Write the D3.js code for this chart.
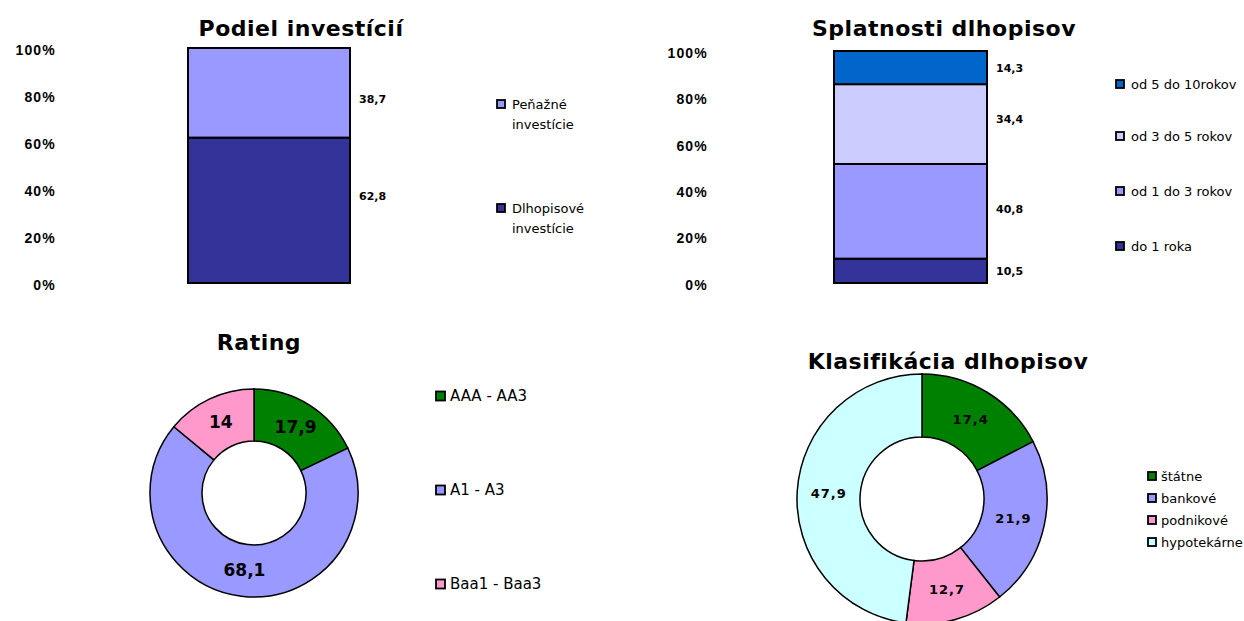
<!DOCTYPE html>
<html>
<head>
<meta charset="utf-8">
<script src="https://cdn.jsdelivr.net/npm/d3@7"></script>
<style>
  body { margin: 0; background: #fff; }
  svg { font-family: "DejaVu Sans", Verdana, sans-serif; }
  .title { font-weight: bold; font-size: 22px; letter-spacing: 0.5px; }
  .ytick text { font-weight: bold; font-size: 14px; letter-spacing: 1.2px; }
</style>
</head>
<body>
<svg id="chart" width="1244" height="621"></svg>
<script>
// Podiel investícií
var invNames = ["Dlhopisové investície", "Peňažné investície"];
var invValues = [62.8, 38.7];
var invColors = ["#333399", "#9999FF"];

// Splatnosti dlhopisov
var matNames = ["do 1 roka", "od 1 do 3 rokov", "od 3 do 5 rokov", "od 5 do 10rokov"];
var matValues = [10.5, 40.8, 34.4, 14.3];
var matColors = ["#333399", "#9999FF", "#CCCCFF", "#0066CC"];

// Rating
var ratNames = ["AAA - AA3", "A1 - A3", "Baa1 - Baa3"];
var ratValues = [17.9, 68.1, 14];
var ratColors = ["#008000", "#9999FF", "#FF99CC"];

// Klasifikácia dlhopisov
var clsNames = ["štátne", "bankové", "podnikové", "hypotekárne"];
var clsValues = [17.4, 21.9, 12.7, 47.9];
var clsColors = ["#008000", "#9999FF", "#FF99CC", "#CCFFFF"];

var yTicks = [0, 0.2, 0.4, 0.6, 0.8, 1];

var svg = d3.select("#chart");

function fmt(v) { return String(v).replace(".", ","); }

function stackedBar(opt) {
	var g = svg.append("g");
	g.append("text").attr("class", "title")
		.attr("x", opt.titleX).attr("y", opt.titleY)
		.attr("text-anchor", "middle").text(opt.title);

	var y = d3.scaleLinear().domain([0, 1]).range([opt.bottom, opt.top]);
	var x = d3.scaleBand().domain(["a"]).range([opt.left, opt.right]).padding(0);

	var row = {};
	opt.names.forEach(function(n, i) { row[n] = opt.values[i]; });
	var series = d3.stack().keys(opt.names).offset(d3.stackOffsetExpand)([row]);

	var ax = g.append("g").attr("class", "ytick")
		.attr("transform", "translate(" + opt.axisX + ",0)")
		.call(d3.axisLeft(y).tickValues(yTicks).tickFormat(d3.format(".0%")).tickSize(0).tickPadding(0));
	ax.select(".domain").remove();
	ax.selectAll("text").attr("fill", "#000").attr("dy", "0.45em");

	g.selectAll("rect.seg").data(series).enter().append("rect")
		.attr("class", "seg")
		.attr("x", x("a")).attr("width", x.bandwidth())
		.attr("y", function(d) { return y(d[0][1]); })
		.attr("height", function(d) { return y(d[0][0]) - y(d[0][1]); })
		.attr("fill", function(d, i) { return opt.colors[i]; })
		.attr("stroke", "#000").attr("stroke-width", 2);

	// excel drops the labels a bit off the segment middle
	g.selectAll("text.val").data(series).enter().append("text")
		.attr("class", "val")
		.attr("x", opt.right + 9)
		.attr("y", function(d, i) { return (y(d[0][0]) + y(d[0][1])) / 2 + (opt.labelShift ? opt.labelShift[i] : 0); })
		.attr("dy", "0.35em")
		.attr("font-weight", "bold").attr("font-size", 11)
		.text(function(d, i) { return fmt(opt.values[i]); });

	var leg = g.selectAll("g.leg").data(opt.names).enter().append("g")
		.attr("transform", function(d, i) { return "translate(" + opt.legX + "," + opt.legY[i] + ")"; });
	leg.append("rect").attr("x", 0).attr("y", -4).attr("width", 8).attr("height", 8)
		.attr("fill", function(d, i) { return opt.colors[i]; })
		.attr("stroke", "#000").attr("stroke-width", 1.8);
	leg.append("text").attr("x", 15).attr("font-size", 13).attr("dy", "0.35em")
		.each(function(d) {
			var lines = opt.wrap ? d.split(" ") : [d];
			var t = d3.select(this);
			lines.forEach(function(l, k) {
				t.append("tspan").attr("x", 15).attr("dy", k === 0 ? "0.35em" : "1.55em").text(l);
			});
		});
}

function donut(opt) {
	var g = svg.append("g");
	g.append("text").attr("class", "title")
		.attr("x", opt.titleX).attr("y", opt.titleY)
		.attr("text-anchor", "middle").text(opt.title);

	var pie = d3.pie().sort(null).value(function(d) { return d; });
	var arc = d3.arc().innerRadius(opt.inner).outerRadius(opt.outer);
	var arcs = pie(opt.values);

	var c = g.append("g").attr("transform", "translate(" + opt.cx + "," + opt.cy + ")");
	c.selectAll("path").data(arcs).enter().append("path")
		.attr("d", arc)
		.attr("fill", function(d, i) { return opt.colors[i]; })
		.attr("stroke", "#000").attr("stroke-width", 1.5);
	c.selectAll("text").data(arcs).enter().append("text")
		.attr("transform", function(d) { return "translate(" + arc.centroid(d) + ")"; })
		.attr("text-anchor", "middle").attr("dy", "0.35em")
		.attr("font-weight", "bold").attr("font-size", opt.labelSize)
		.attr("letter-spacing", opt.labelSpacing)
		.text(function(d, i) { return fmt(opt.values[i]); });

	var leg = g.selectAll("g.leg").data(opt.names).enter().append("g")
		.attr("transform", function(d, i) { return "translate(" + opt.legX + "," + (opt.legY0 + i * opt.legStep) + ")"; });
	leg.append("rect").attr("x", 0).attr("y", -opt.box / 2).attr("width", opt.box).attr("height", opt.box)
		.attr("fill", function(d, i) { return opt.colors[i]; })
		.attr("stroke", "#000").attr("stroke-width", 1.8);
	leg.append("text").attr("x", opt.box + 5).attr("dy", "0.35em")
		.attr("font-size", opt.legSize).text(function(d) { return d; });
}

stackedBar({
	title: "Podiel investícií", titleX: 301, titleY: 36,
	names: invNames, values: invValues, colors: invColors,
	left: 188, right: 350, top: 48, bottom: 283, axisX: 56,
	labelShift: [-14, 6],
	legX: 497, legY: [208, 104], wrap: true
});

stackedBar({
	title: "Splatnosti dlhopisov", titleX: 944, titleY: 36,
	names: matNames, values: matValues, colors: matColors,
	left: 834, right: 987, top: 51, bottom: 283, axisX: 708,
	labelShift: [0, -2, -5, 1],
	legX: 1116, legY: [246, 191, 136, 84], wrap: false
});

donut({
	title: "Rating", titleX: 259, titleY: 350,
	names: ratNames, values: ratValues, colors: ratColors,
	cx: 254, cy: 493, outer: 104, inner: 52, labelSize: 17, labelSpacing: 0,
	legX: 436, legY0: 396, legStep: 94, box: 9, legSize: 15
});

donut({
	title: "Klasifikácia dlhopisov", titleX: 948, titleY: 369,
	names: clsNames, values: clsValues, colors: clsColors,
	cx: 922, cy: 499, outer: 125, inner: 62, labelSize: 13, labelSpacing: 1,
	legX: 1148, legY0: 476, legStep: 22, box: 8, legSize: 13
});
</script>
</body>
</html>
